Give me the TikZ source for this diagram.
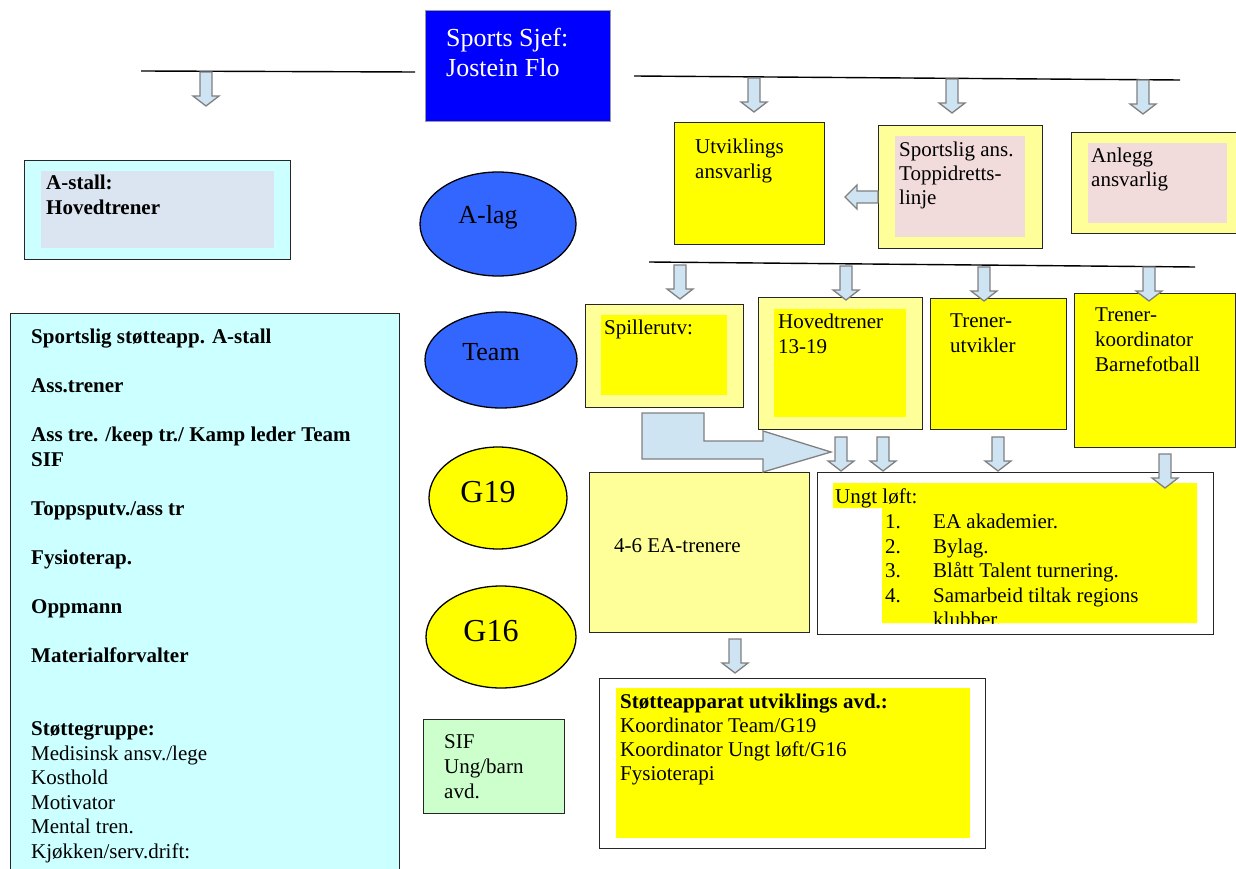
\documentclass[tikz,border=0pt]{standalone}
\usepackage{fontspec}
\setmainfont{Liberation Serif}
\usetikzlibrary{shapes.geometric}
\definecolor{sjefblue}{RGB}{0,0,255}
\definecolor{lagblue}{RGB}{51,102,255}
\definecolor{gul}{RGB}{255,255,0}
\definecolor{lysgul}{RGB}{255,255,153}
\definecolor{rosa}{RGB}{242,220,219}
\definecolor{lysblaa}{RGB}{204,255,255}
\definecolor{graablaa}{RGB}{219,229,241}
\definecolor{lysgroenn}{RGB}{204,255,204}
\definecolor{pilblaa}{RGB}{207,228,242}
\definecolor{pilgraa}{RGB}{128,128,128}

\begin{document}
\begin{tikzpicture}[x=1pt,y=-1pt,
  boks/.style={draw=black!85,line width=0.9pt,inner sep=0pt,anchor=north west},
  felt/.style={inner sep=0pt,anchor=north west},
  tekst/.style={font=\fontsize{21}{24.5}\selectfont,align=left,inner sep=0pt,anchor=north west},
  oval/.style={ellipse,draw,line width=1.3pt,inner sep=0pt,font=\fontsize{26}{30}\selectfont,text depth=20pt,execute at end node=\hspace*{20pt}},
  pil/.style={fill=pilblaa,draw=pilgraa,line width=1.3pt},
  strek/.style={line width=1.4pt}]
\useasboundingbox (0,0) rectangle (1236,869);

% top
\node[boks,fill=sjefblue,draw=black!40,minimum width=185pt,minimum height=111pt] (sjef) at (425,10) {};
\node[tekst,text=white,font=\fontsize{26}{29.5}\selectfont] (sjeftxt) at (446,28) {Sports Sjef:\\Jostein Flo};
\draw[strek] (141,71) -- (415,72);
\draw[strek] (634,76) -- (1180,80);
\draw[strek] (649,262) -- (1195,267);

% A-stall
\node[boks,fill=lysblaa,minimum width=266pt,minimum height=99pt] (astall) at (24,160) {};
\node[felt,fill=graablaa,minimum width=233pt,minimum height=77pt] (astallfelt) at (41,171) {};
\node[tekst,font=\fontsize{21}{25}\selectfont\bfseries] (astalltxt) at (46,175) {A-stall:\\Hovedtrener};

% rad 1
\node[boks,fill=gul,minimum width=150pt,minimum height=122pt] (utv) at (674,122) {};
\node[tekst] (utvtxt) at (695,139) {Utviklings\\ansvarlig};
\node[boks,fill=lysgul,minimum width=164pt,minimum height=123pt] (sport) at (878,125) {};
\node[felt,fill=rosa,minimum width=130pt,minimum height=101pt] (sportfelt) at (895,136) {};
\node[tekst,font=\fontsize{21}{24}\selectfont] (sporttxt) at (899,142) {Sportslig ans.\\Toppidretts-\\linje};
\node[boks,fill=lysgul,minimum width=170pt,minimum height=101pt] (anlegg) at (1071,132) {};
\node[felt,fill=rosa,minimum width=139pt,minimum height=80pt] (anleggfelt) at (1088,143) {};
\node[tekst,font=\fontsize{21}{24}\selectfont] (anleggtxt) at (1091,148) {Anlegg\\ansvarlig};

% rad 2
\node[boks,fill=lysgul,minimum width=158pt,minimum height=103pt] (spiller) at (585,304) {};
\node[felt,fill=gul,minimum width=126pt,minimum height=80pt] (spillerfelt) at (601,315) {};
\node[tekst] (spillertxt) at (604,320) {Spillerutv:};
\node[boks,fill=lysgul,minimum width=164pt,minimum height=132pt] (hoved) at (758,297) {};
\node[felt,fill=gul,minimum width=132pt,minimum height=108pt] (hovedfelt) at (774,309) {};
\node[tekst] (hovedtxt) at (778,314) {Hovedtrener\\13-19};
\node[boks,fill=gul,minimum width=136pt,minimum height=131pt] (trutv) at (930,298) {};
\node[tekst] (trutvtxt) at (950,314) {Trener-\\utvikler};
\node[boks,fill=gul,minimum width=161pt,minimum height=154pt] (koord) at (1074,293) {};
\node[tekst,font=\fontsize{21}{25}\selectfont] (koordtxt) at (1095,308) {Trener-\\koordinator\\Barnefotball};

% ovaler
\node[oval,fill=lagblue,minimum width=156pt,minimum height=104pt] (alag) at (498,224) {A-lag};
\node[oval,fill=lagblue,minimum width=152pt,minimum height=96pt,text depth=16pt] (team) at (501,360) {Team};
\node[oval,fill=gul,minimum width=138pt,minimum height=102pt,font=\fontsize{32}{36}\selectfont,text depth=12pt] (g19) at (498,498) {G19};
\node[oval,fill=gul,minimum width=150pt,minimum height=102pt,font=\fontsize{32}{36}\selectfont,text depth=12pt] (g16) at (501,637) {G16};

% rad 3
\node[boks,fill=lysgul,minimum width=220pt,minimum height=160pt] (ea) at (589,472) {};
\node[tekst] (eatxt) at (614,538) {4-6 EA-trenere};
\node[boks,fill=white,minimum width=396pt,minimum height=162pt] (ungt) at (817,472) {};
\fill[gul] (833,483) -- (1197,483) -- (1197,623) -- (882,623) -- (882,508) -- (833,508) -- cycle;
\node[tekst] (ungttxt) at (835,489) {Ungt løft:};
\begin{scope}
\clip (817,472) rectangle (1213,623);
\node[tekst] (ungtliste) at (885,514) {\makebox[48pt][l]{1.}EA akademier.\\
  \makebox[48pt][l]{2.}Bylag.\\
  \makebox[48pt][l]{3.}Blått Talent turnering.\\
  \makebox[48pt][l]{4.}Samarbeid tiltak regions\\
  \hspace*{48pt}klubber.};
\end{scope}

% bunn
\node[boks,fill=white,minimum width=386pt,minimum height=170pt] (stotte) at (599,678) {};
\node[felt,fill=gul,minimum width=354pt,minimum height=150pt] (stottefelt) at (616,688) {};
\node[tekst,font=\fontsize{21}{24}\selectfont] (stottetxt) at (620,694) {\textbf{Støtteapparat utviklings avd.:}\\Koordinator Team/G19\\Koordinator Ungt løft/G16\\Fysioterapi};
\node[boks,fill=lysgroenn,minimum width=141pt,minimum height=94pt] (sif) at (423,719) {};
\node[tekst,font=\fontsize{21}{25}\selectfont] (siftxt) at (444,734) {SIF\\Ung/barn\\avd.};

% venstre panel
\node[boks,fill=lysblaa,minimum width=389pt,minimum height=600pt] (panel) at (10,313) {};
\node[tekst] (paneltxt) at (31,329) {\textbf{Sportslig støtteapp. A-stall}\\[24.5pt]
  \textbf{Ass.trener}\\[24.5pt]
  \textbf{Ass tre. /keep tr./ Kamp leder Team}\\
  \textbf{SIF}\\[24.5pt]
  \textbf{Toppsputv./ass tr}\\[24.5pt]
  \textbf{Fysioterap.}\\[24.5pt]
  \textbf{Oppmann}\\[24.5pt]
  \textbf{Materialforvalter}\\[49pt]
  \textbf{Støttegruppe:}\\
  Medisinsk ansv./lege\\
  Kosthold\\
  Motivator\\
  Mental tren.\\
  Kjøkken/serv.drift:};

% piler
\foreach \x/\y in {206/72,754/78,952/79,1143/80,680/265,846/266,984/267,1149/267,841/437,883/437,998/437,1165/454,735/639}
  \draw[pil] (\x-6,\y) -- (\x+6,\y) -- (\x+6,\y+24) -- (\x+13,\y+24) -- (\x,\y+34) -- (\x-13,\y+24) -- (\x-6,\y+24) -- cycle;
\draw[pil] (878,191) -- (857,191) -- (857,185) -- (845,197) -- (857,209) -- (857,203) -- (878,203) -- cycle;
\draw[pil] (642,413) -- (704,413) -- (704,441) -- (763,441) -- (763,431) -- (831,452) -- (763,472) -- (763,459) -- (642,459) -- cycle;
\end{tikzpicture}
\end{document}
